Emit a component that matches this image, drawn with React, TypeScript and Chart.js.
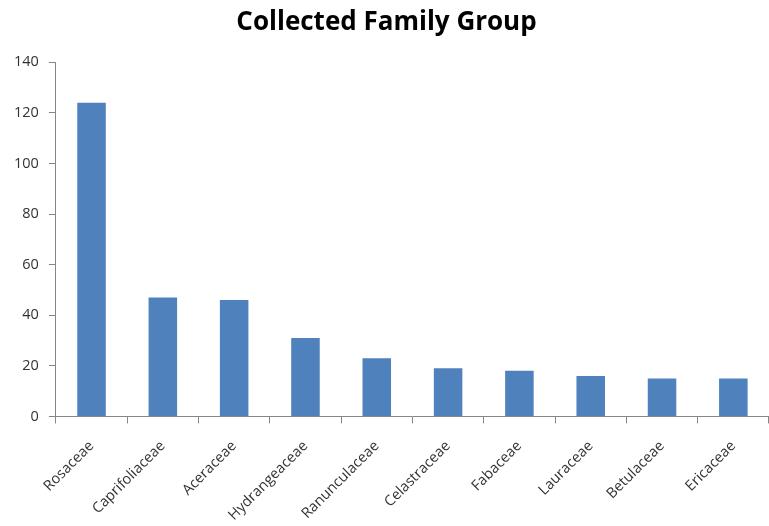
import React, { useEffect, useRef } from "react";
import { Chart, registerables } from "chart.js";

Chart.register(...registerables);

const categories = [
  "Rosaceae",
  "Caprifoliaceae",
  "Aceraceae",
  "Hydrangeaceae",
  "Ranunculaceae",
  "Celastraceae",
  "Fabaceae",
  "Lauraceae",
  "Betulaceae",
  "Ericaceae",
];
const counts = [124, 47, 46, 31, 23, 19, 18, 16, 15, 15];
const yTicks = [0, 20, 40, 60, 80, 100, 120, 140];
const title = "Collected Family Group";

export default function App() {
  const ref = useRef<HTMLCanvasElement | null>(null);
  useEffect(() => {
    document.body.style.margin = "0";
    const ctx = ref.current!;
    const axisColor = "#868686";
    const chart = new Chart(ctx, {
      type: "bar",
      data: {
        labels: categories,
        datasets: [
          {
            data: counts,
            backgroundColor: "#4F81BD",
            borderWidth: 0,
            barPercentage: 0.4,
            categoryPercentage: 1,
          },
        ],
      },
      options: {
        animation: false,
        responsive: false,
        maintainAspectRatio: false,
        layout: { padding: { left: 4, right: 0, top: 0, bottom: -12 } },
        plugins: {
          legend: { display: false },
          tooltip: { enabled: false },
          title: {
            display: true,
            text: title,
            color: "#000",
            font: { family: "Open Sans", size: 26, weight: "bold" },
            padding: { top: 7, bottom: 24 },
          },
        },
        scales: {
          x: {
            type: "category",
            offset: true,
            grid: {
              display: true,
              drawOnChartArea: false,
              drawTicks: true,
              tickLength: 7,
              color: axisColor,
              offset: true,
            },
            border: { display: true, color: axisColor, width: 1 },
            ticks: {
              color: "#333",
              font: { family: "Open Sans", size: 14.5 },
              maxRotation: 45,
              minRotation: 45,
              autoSkip: false,
              padding: 14,
            },
          },
          y: {
            min: 0,
            max: 140,
            afterBuildTicks: (axis: any) => {
              axis.ticks = yTicks.map((v) => ({ value: v }));
            },
            grid: {
              display: true,
              drawOnChartArea: false,
              drawTicks: true,
              tickLength: 7,
              color: axisColor,
            },
            border: { display: true, color: axisColor, width: 1 },
            ticks: {
              color: "#333",
              font: { family: "Open Sans", size: 14.5 },
              padding: 10,
            },
          },
        },
      },
    });
    return () => chart.destroy();
  }, []);
  return (
    <div style={{ width: 769, height: 526, background: "#fff" }}>
      <canvas ref={ref} width={769} height={526} />
    </div>
  );
}
